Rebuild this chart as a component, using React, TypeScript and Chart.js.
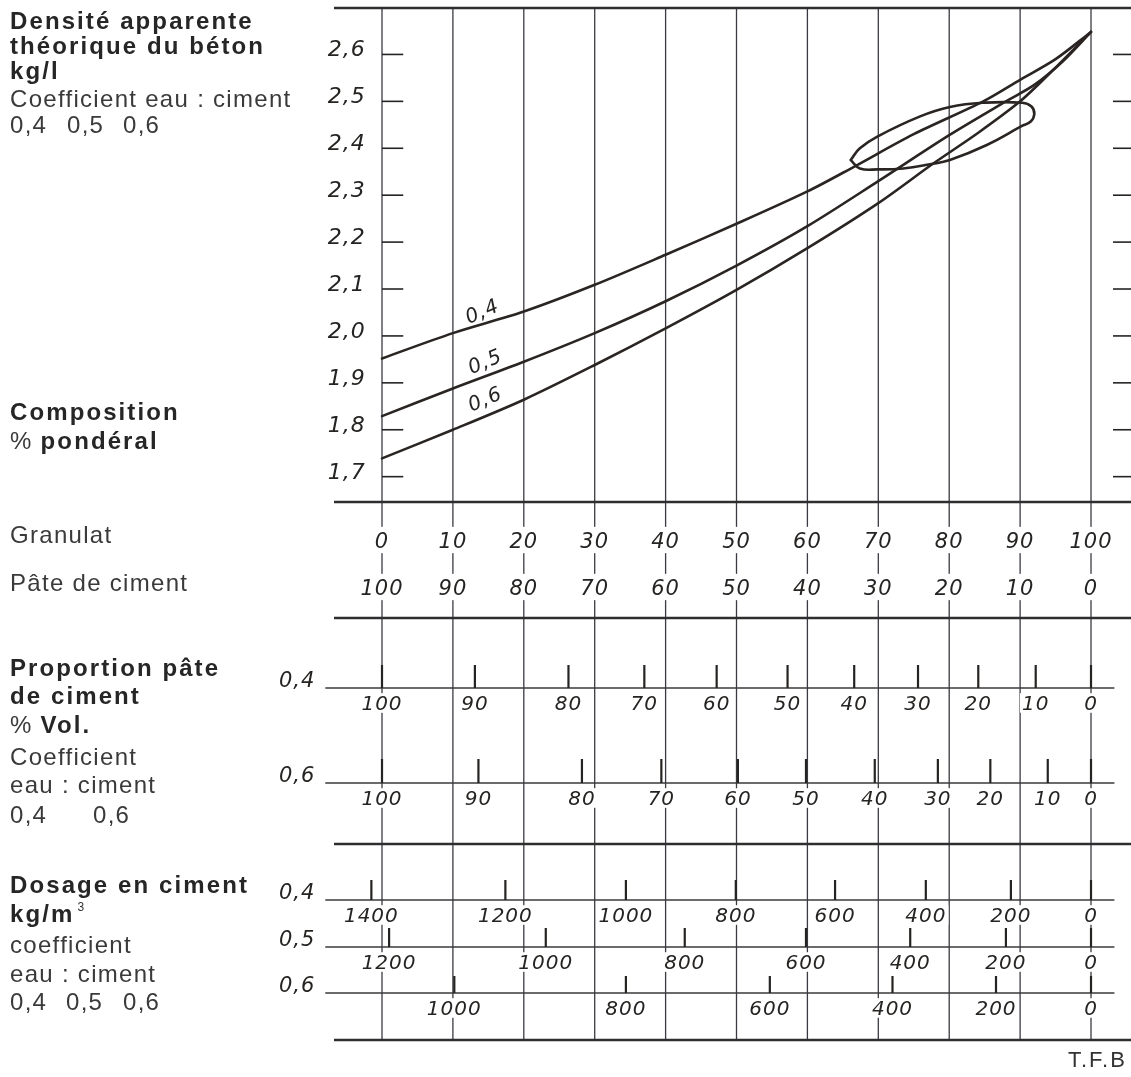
import React, { useEffect, useRef } from 'react';
import { Chart, registerables } from 'chart.js';

Chart.register(...registerables);

// ---------------- data ----------------
// Densité apparente théorique du béton (kg/l)
const DENSITY_TICKS = [1.7, 1.8, 1.9, 2.0, 2.1, 2.2, 2.3, 2.4, 2.5, 2.6];
const DENSITY_LABELS = ['1,7', '1,8', '1,9', '2,0', '2,1', '2,2', '2,3', '2,4', '2,5', '2,6'];

// Composition % pondéral (granulat on the x axis)
const GRANULAT_PCT = [0, 10, 20, 30, 40, 50, 60, 70, 80, 90, 100];
const GRANULAT_LABELS = ['0', '10', '20', '30', '40', '50', '60', '70', '80', '90', '100'];
const PATE_LABELS = ['100', '90', '80', '70', '60', '50', '40', '30', '20', '10', '0'];

// Density curves, coefficient eau : ciment 0,4 / 0,5 / 0,6
const CURVE_04_X = [0, 10, 20, 30, 40, 50, 60, 66.5, 75, 84.8, 90, 95, 100];
const CURVE_04_Y = [1.952, 2.006, 2.052, 2.109, 2.173, 2.239, 2.308, 2.36, 2.43, 2.5, 2.546, 2.59, 2.648];
const CURVE_05_X = [0, 10, 20, 30, 40, 50, 60, 70, 80, 88, 92, 96, 100];
const CURVE_05_Y = [1.829, 1.888, 1.945, 2.006, 2.074, 2.15, 2.234, 2.33, 2.428, 2.5, 2.535, 2.585, 2.648];
const CURVE_06_X = [0, 10, 20, 30, 40, 50, 60, 70, 77.8, 84, 90, 95, 100];
const CURVE_06_Y = [1.739, 1.8, 1.864, 1.938, 2.016, 2.098, 2.187, 2.283, 2.368, 2.432, 2.5, 2.572, 2.648];

// the closed loop drawn around the meeting zone
const LOOP_X = [66.1, 67.4, 70, 75.9, 80.1, 84.8, 90.3, 91.6, 92.0, 91.5, 90.2, 85.3, 80.1, 77.3, 73.5, 70, 67.4, 66.1];
const LOOP_Y = [2.375, 2.4, 2.426, 2.468, 2.488, 2.497, 2.497, 2.489, 2.473, 2.457, 2.447, 2.407, 2.375, 2.366, 2.357, 2.355, 2.357, 2.375];

const CURVE_LABELS = ['0,4', '0,5', '0,6'];
const CURVE_LABEL_X = [14.2, 14.6, 14.6];
const CURVE_LABEL_Y = [2.05, 1.943, 1.863];

// Proportion pâte de ciment % Vol. (value read at granulat % position)
const VOL_LABELS = ['100', '90', '80', '70', '60', '50', '40', '30', '20', '10', '0'];
const VOL_04_AT = [0, 13.1, 26.3, 37.0, 47.2, 57.2, 66.6, 75.6, 84.1, 92.2, 100];
const VOL_06_AT = [0, 13.6, 28.2, 39.4, 50.2, 59.8, 69.5, 78.4, 85.8, 93.9, 100];

// Dosage en ciment kg/m3
const DOSE_04_LABELS = ['1400', '1200', '1000', '800', '600', '400', '200', '0'];
const DOSE_04_AT = [-1.5, 17.4, 34.4, 49.9, 63.9, 76.7, 88.7, 100];
const DOSE_05_LABELS = ['1200', '1000', '800', '600', '400', '200', '0'];
const DOSE_05_AT = [1.0, 23.1, 42.7, 59.8, 74.5, 88.0, 100];
const DOSE_06_LABELS = ['1000', '800', '600', '400', '200', '0'];
const DOSE_06_AT = [10.2, 34.4, 54.7, 72.0, 86.6, 100];

// ---------------- layout ----------------
const W = 1131;
const H = 1077;
const X_MIN = -6.77;
const X_MAX = 105.64;
const Y_MIN = 1.646;
const Y_MAX = 2.699;
const BAND_MAX = 538;
const BAND = {
  top: 0, granulat: 38, pate: 85, sep1: 116, vol04: 186, vol06: 281,
  sep2: 342, dose04: 398, dose05: 445, dose06: 491, bottom: 538,
};
const ROW_LINE_FROM = -8.0;
const ROW_LINE_TO = 103.3;
const ROW_NAME_X = -9.4;
const LEFT_TICK_TO = 3.0;
const RIGHT_TICK_FROM = 103.1;
const DENSITY_LABEL_X = -2.3;

const INK = '#262422';
const GRID = '#3a3a42';
const HAND = 'italic 20px "DejaVu Sans"';

const ROWS = [
  { name: '0,4', y: BAND.vol04, at: VOL_04_AT, labels: VOL_LABELS, tick: 23 },
  { name: '0,6', y: BAND.vol06, at: VOL_06_AT, labels: VOL_LABELS, tick: 24 },
  { name: '0,4', y: BAND.dose04, at: DOSE_04_AT, labels: DOSE_04_LABELS, tick: 20 },
  { name: '0,5', y: BAND.dose05, at: DOSE_05_AT, labels: DOSE_05_LABELS, tick: 19 },
  { name: '0,6', y: BAND.dose06, at: DOSE_06_AT, labels: DOSE_06_LABELS, tick: 17 },
];

function pts(xs: number[], ys: number[]) {
  return xs.map((x, i) => ({ x, y: ys[i] }));
}

function seg(ctx: CanvasRenderingContext2D, x1: number, y1: number, x2: number, y2: number) {
  ctx.beginPath();
  ctx.moveTo(x1, y1);
  ctx.lineTo(x2, y2);
  ctx.stroke();
}

function boxed(ctx: CanvasRenderingContext2D, text: string, x: number, yc: number, size: number, padX: number, padY: number) {
  ctx.font = `italic ${size}px "DejaVu Sans"`;
  (ctx as any).letterSpacing = '1px';
  const w = ctx.measureText(text).width;
  const h = size * 0.73;
  ctx.fillStyle = '#ffffff';
  ctx.fillRect(x - w / 2 - padX, yc - h / 2 - padY, w + 2 * padX, h + 2 * padY);
  ctx.fillStyle = INK;
  ctx.textAlign = 'center';
  ctx.textBaseline = 'alphabetic';
  ctx.fillText(text, x, yc + h / 2);
}

const nomogram = {
  id: 'nomogram',
  beforeDatasetsDraw(chart: any) {
    const { ctx } = chart;
    const xs = chart.scales.x;
    const ys = chart.scales.y;
    const bs = chart.scales.band;
    const X = (v: number) => xs.getPixelForValue(v);
    const Y = (v: number) => ys.getPixelForValue(v);
    const B = (v: number) => bs.getPixelForValue(v);
    ctx.save();
    ctx.lineCap = 'butt';
    // vertical grid
    ctx.strokeStyle = GRID;
    ctx.lineWidth = 1.3;
    for (const g of GRANULAT_PCT) seg(ctx, X(g), Y(Y_MAX), X(g), B(BAND.bottom));
    // density ticks, left and right
    ctx.strokeStyle = INK;
    ctx.lineWidth = 1.6;
    for (const t of DENSITY_TICKS) {
      seg(ctx, X(0), Y(t), X(LEFT_TICK_TO), Y(t));
      seg(ctx, X(RIGHT_TICK_FROM), Y(t), X(X_MAX), Y(t));
    }
    // row lines and ticks
    for (const r of ROWS) {
      ctx.lineWidth = 1.5;
      ctx.strokeStyle = '#3a3a3a';
      seg(ctx, X(ROW_LINE_FROM), B(r.y), X(ROW_LINE_TO), B(r.y));
      ctx.lineWidth = 2.2;
      ctx.strokeStyle = INK;
      for (const a of r.at) seg(ctx, X(a), B(r.y), X(a), B(r.y - r.tick));
    }
    // thick separators
    ctx.strokeStyle = '#2e2e2e';
    ctx.lineWidth = 2.6;
    seg(ctx, X(X_MIN), Y(Y_MAX), X(X_MAX), Y(Y_MAX));
    for (const b of [BAND.top, BAND.sep1, BAND.sep2, BAND.bottom]) seg(ctx, X(X_MIN), B(b), X(X_MAX), B(b));
    ctx.restore();
  },
  afterDatasetsDraw(chart: any) {
    const { ctx } = chart;
    const xs = chart.scales.x;
    const ys = chart.scales.y;
    const bs = chart.scales.band;
    const X = (v: number) => xs.getPixelForValue(v);
    const Y = (v: number) => ys.getPixelForValue(v);
    const B = (v: number) => bs.getPixelForValue(v);
    ctx.save();
    // density labels
    ctx.font = 'italic 22px "DejaVu Sans"';
    (ctx as any).letterSpacing = '1px';
    ctx.fillStyle = INK;
    ctx.textAlign = 'right';
    ctx.textBaseline = 'alphabetic';
    DENSITY_TICKS.forEach((t, i) => ctx.fillText(DENSITY_LABELS[i], X(DENSITY_LABEL_X), Y(t) + 2));
    // curve labels
    ctx.font = HAND;
    ctx.textAlign = 'center';
    ctx.textBaseline = 'middle';
    CURVE_LABELS.forEach((l, i) => {
      ctx.save();
      ctx.translate(X(CURVE_LABEL_X[i]), Y(CURVE_LABEL_Y[i]));
      ctx.rotate(-0.4);
      ctx.fillText(l, 0, 0);
      ctx.restore();
    });
    // composition labels
    GRANULAT_PCT.forEach((g, i) => {
      boxed(ctx, GRANULAT_LABELS[i], X(g), B(BAND.granulat), 21, 4, 5.5);
      boxed(ctx, PATE_LABELS[i], X(g), B(BAND.pate), 21, 4, 5.5);
    });
    // row labels
    for (const r of ROWS) {
      r.at.forEach((a, i) => boxed(ctx, r.labels[i], X(a), B(r.y + 15), 20, 2, 2.5));
      ctx.font = 'italic 21px "DejaVu Sans"';
      (ctx as any).letterSpacing = '1px';
      ctx.fillStyle = INK;
      ctx.textAlign = 'right';
      ctx.textBaseline = 'alphabetic';
      ctx.fillText(r.name, X(ROW_NAME_X), B(r.y - 1));
    }
    ctx.restore();
  },
};

type Seg = { t: string; b?: boolean; sup?: boolean };
const LEFT_LINES: { x: number; base: number; segs: Seg[] }[] = [
  { x: 10, base: 29, segs: [{ t: 'Densité apparente', b: true }] },
  { x: 10, base: 54, segs: [{ t: 'théorique du béton', b: true }] },
  { x: 10, base: 79, segs: [{ t: 'kg/l', b: true }] },
  { x: 10, base: 107, segs: [{ t: 'Coefficient eau : ciment' }] },
  { x: 10, base: 133, segs: [{ t: '0,4' }] },
  { x: 67, base: 133, segs: [{ t: '0,5' }] },
  { x: 123, base: 133, segs: [{ t: '0,6' }] },
  { x: 10, base: 420, segs: [{ t: 'Composition', b: true }] },
  { x: 10, base: 449, segs: [{ t: '% ' }, { t: 'pondéral', b: true }] },
  { x: 10, base: 543, segs: [{ t: 'Granulat' }] },
  { x: 10, base: 591, segs: [{ t: 'Pâte de ciment' }] },
  { x: 10, base: 676, segs: [{ t: 'Proportion pâte', b: true }] },
  { x: 10, base: 704, segs: [{ t: 'de ciment', b: true }] },
  { x: 10, base: 733, segs: [{ t: '% ' }, { t: 'Vol.', b: true }] },
  { x: 10, base: 765, segs: [{ t: 'Coefficient' }] },
  { x: 10, base: 793, segs: [{ t: 'eau : ciment' }] },
  { x: 10, base: 823, segs: [{ t: '0,4' }] },
  { x: 93, base: 823, segs: [{ t: '0,6' }] },
  { x: 10, base: 893, segs: [{ t: 'Dosage en ciment', b: true }] },
  { x: 10, base: 922, segs: [{ t: 'kg/m', b: true }, { t: '3', sup: true }] },
  { x: 10, base: 953, segs: [{ t: 'coefficient' }] },
  { x: 10, base: 982, segs: [{ t: 'eau : ciment' }] },
  { x: 10, base: 1010, segs: [{ t: '0,4' }] },
  { x: 66, base: 1010, segs: [{ t: '0,5' }] },
  { x: 123, base: 1010, segs: [{ t: '0,6' }] },
];

export default function App() {
  const ref = useRef<HTMLCanvasElement | null>(null);
  useEffect(() => {
    if (!ref.current) return;
    const line = (label: string, data: { x: number; y: number }[], tension: number) => ({
      label,
      data,
      borderColor: '#2a2522',
      borderWidth: 2.6,
      pointRadius: 0,
      tension,
      fill: false,
      xAxisID: 'x',
      yAxisID: 'y',
      borderCapStyle: 'round',
      borderJoinStyle: 'round',
    });
    const chart = new Chart(ref.current, {
      type: 'line',
      data: {
        datasets: [
          line('0,4', pts(CURVE_04_X, CURVE_04_Y), 0.3),
          line('0,5', pts(CURVE_05_X, CURVE_05_Y), 0.3),
          line('0,6', pts(CURVE_06_X, CURVE_06_Y), 0.3),
          line('boucle', pts(LOOP_X, LOOP_Y), 0.45),
        ] as any,
      },
      options: {
        animation: false,
        responsive: false,
        events: [],
        layout: { padding: { left: 334, right: 0, top: 8, bottom: H - 1040 } },
        plugins: {
          legend: { display: false },
          tooltip: { enabled: false },
          title: { display: false },
        },
        scales: {
          x: { type: 'linear', min: X_MIN, max: X_MAX, display: false, bounds: 'data' },
          y: {
            type: 'linear', min: Y_MIN, max: Y_MAX, display: false, bounds: 'data',
            position: 'right', stack: 'nomo', stackWeight: 494,
          },
          band: {
            type: 'linear', min: 0, max: BAND_MAX, reverse: true, display: false, bounds: 'data',
            position: 'right', stack: 'nomo', stackWeight: 538,
          },
        },
      } as any,
      plugins: [nomogram],
    });
    return () => chart.destroy();
  }, []);

  return (
    <div
      style={{
        position: 'absolute', left: 0, top: 0, width: W, height: H, background: '#ffffff',
        fontFamily: '"Liberation Sans", Arial, Helvetica, sans-serif', overflow: 'hidden',
      }}
    >
      <canvas ref={ref} width={W} height={H} style={{ position: 'absolute', left: 0, top: 0 }} />
      {LEFT_LINES.map((l, i) => (
        <div
          key={i}
          style={{
            position: 'absolute', left: l.x, top: l.base - 20.3, fontSize: 24, lineHeight: '24px',
            whiteSpace: 'nowrap', color: '#333333',
          }}
        >
          {l.segs.map((s, j) =>
            s.sup ? (
              <span key={j} style={{ fontSize: 12, position: 'relative', top: -11, marginLeft: 3 }}>{s.t}</span>
            ) : (
              <span
                key={j}
                style={{
                  fontWeight: s.b ? 700 : 400,
                  letterSpacing: s.b ? '2.1px' : '1.3px',
                  color: s.b ? '#262626' : '#3a3a3a',
                }}
              >
                {s.t}
              </span>
            )
          )}
        </div>
      ))}
      <div
        style={{
          position: 'absolute', left: 1068, top: 1068 - 18.7, fontSize: 22, lineHeight: '22px',
          letterSpacing: '2px', color: '#333333', whiteSpace: 'nowrap',
        }}
      >
        T.F.B
      </div>
    </div>
  );
}
